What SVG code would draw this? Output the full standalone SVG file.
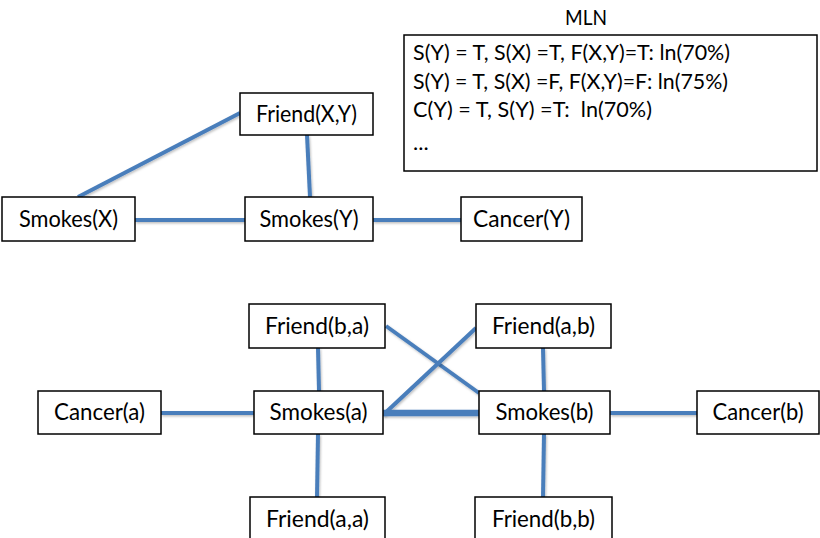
<svg xmlns="http://www.w3.org/2000/svg" width="820" height="538" viewBox="0 0 820 538">
<style>
.box{fill:#fff;stroke:#000;stroke-width:1.5}
.lbl{font-family:Lato,"Open Sans","Liberation Sans",sans-serif;font-size:23px;fill:#000;text-anchor:middle}
.mln{font-family:Lato,"Open Sans","Liberation Sans",sans-serif;font-size:22px;fill:#000;white-space:pre}
.e{stroke:#4a7ebb;stroke-width:4;fill:none;stroke-linecap:butt;filter:url(#sh)}
</style>
<defs>
<filter id="sh" filterUnits="userSpaceOnUse" x="0" y="0" width="820" height="538">
<feDropShadow dx="1" dy="1.5" stdDeviation="1" flood-color="#000" flood-opacity="0.25"/>
</filter>
</defs>
<g id="connectors">
<line class="e" x1="78" y1="197" x2="240" y2="113"/>
<line class="e" x1="307" y1="135" x2="310" y2="197"/>
<line class="e" x1="135" y1="220" x2="245" y2="220"/>
<line class="e" x1="373" y1="220" x2="461" y2="220"/>
<line class="e" x1="161" y1="413" x2="254" y2="413"/>
<line class="e" x1="318" y1="348" x2="319" y2="391"/>
<line class="e" x1="318" y1="434" x2="317" y2="497"/>
<line class="e" x1="386" y1="326" x2="479" y2="393"/>
<line class="e" x1="383" y1="415" x2="476" y2="328"/>
<line class="e" x1="383" y1="413" x2="479" y2="413" style="stroke-width:6.5"/>
<line class="e" x1="543" y1="348" x2="544" y2="391"/>
<line class="e" x1="544" y1="434" x2="543" y2="497"/>
<line class="e" x1="610" y1="413" x2="697" y2="413"/>
</g>
<g id="friendXY"><rect class="box" x="240" y="93" width="133" height="42"/><text class="lbl" x="306.5" y="122" textLength="101" lengthAdjust="spacingAndGlyphs">Friend(X,Y)</text></g>
<g id="smokesX"><rect class="box" x="2" y="197" width="133" height="44"/><text class="lbl" x="68.5" y="227" textLength="99" lengthAdjust="spacingAndGlyphs">Smokes(X)</text></g>
<g id="smokesY"><rect class="box" x="245" y="197" width="128" height="44"/><text class="lbl" x="309" y="227" textLength="99" lengthAdjust="spacingAndGlyphs">Smokes(Y)</text></g>
<g id="cancerY"><rect class="box" x="461" y="197" width="121" height="44"/><text class="lbl" x="521.5" y="227" textLength="97" lengthAdjust="spacingAndGlyphs">Cancer(Y)</text></g>
<g id="mln">
<text x="586" y="25" style="font-family:Lato,'Open Sans','Liberation Sans',sans-serif;font-size:22px;text-anchor:middle" textLength="42" lengthAdjust="spacingAndGlyphs">MLN</text>
<rect class="box" x="404" y="35" width="413" height="136"/>
<text class="mln" x="413" y="60" textLength="317" lengthAdjust="spacingAndGlyphs">S(Y) = T, S(X) =T, F(X,Y)=T: ln(70%)</text>
<text class="mln" x="413" y="89" textLength="315" lengthAdjust="spacingAndGlyphs">S(Y) = T, S(X) =F, F(X,Y)=F: ln(75%)</text>
<text class="mln" x="413" y="117" textLength="239" lengthAdjust="spacingAndGlyphs">C(Y) = T, S(Y) =T:  ln(70%)</text>
<text class="mln" x="413" y="150">...</text>
</g>
<g id="friendba"><rect class="box" x="249" y="304" width="136" height="44"/><text class="lbl" x="317" y="334" textLength="104" lengthAdjust="spacingAndGlyphs">Friend(b,a)</text></g>
<g id="cancera"><rect class="box" x="38" y="391" width="123" height="43"/><text class="lbl" x="99.5" y="420" textLength="91" lengthAdjust="spacingAndGlyphs">Cancer(a)</text></g>
<g id="smokesa"><rect class="box" x="254" y="391" width="129" height="43"/><text class="lbl" x="318.5" y="420" textLength="98" lengthAdjust="spacingAndGlyphs">Smokes(a)</text></g>
<g id="friendaa"><rect class="box" x="250" y="497" width="135" height="50"/><text class="lbl" x="317.5" y="527" textLength="103" lengthAdjust="spacingAndGlyphs">Friend(a,a)</text></g>
<g id="friendab"><rect class="box" x="476" y="304" width="135" height="44"/><text class="lbl" x="543.5" y="334" textLength="103" lengthAdjust="spacingAndGlyphs">Friend(a,b)</text></g>
<g id="smokesb"><rect class="box" x="479" y="391" width="131" height="43"/><text class="lbl" x="544.5" y="420" textLength="98" lengthAdjust="spacingAndGlyphs">Smokes(b)</text></g>
<g id="cancerb"><rect class="box" x="697" y="391" width="122" height="43"/><text class="lbl" x="758" y="420" textLength="91" lengthAdjust="spacingAndGlyphs">Cancer(b)</text></g>
<g id="friendbb"><rect class="box" x="475" y="497" width="137" height="50"/><text class="lbl" x="543.5" y="527" textLength="103" lengthAdjust="spacingAndGlyphs">Friend(b,b)</text></g>
</svg>
